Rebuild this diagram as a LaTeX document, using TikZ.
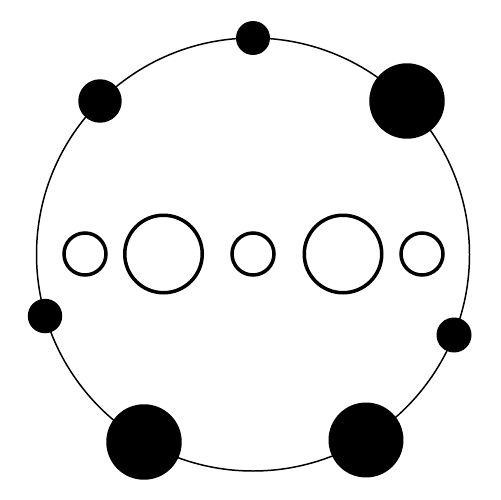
\documentclass[tikz,border=0pt]{standalone}
\usetikzlibrary{positioning}

\tikzset{
  planet/.style={circle, fill=black, inner sep=0pt},
  moon/.style={circle, draw=black, line width=2pt, inner sep=0pt},
}

\begin{document}
\begin{tikzpicture}[x=0.02cm, y=-0.02cm]
  \useasboundingbox (0,0) rectangle (500,500);
  \coordinate (o) at (253,254.5);
  \draw[line width=0.85pt] (o) circle (216.5);
  % planets on the orbit
  \node[planet, minimum size=0.68cm] (top) at (253,38) {};
  \node[planet, minimum size=0.87cm] (nw) at (100,101) {};
  \node[planet, minimum size=1.51cm] (ne) at (407,101) {};
  \node[planet, minimum size=0.69cm] (w) at (45,316) {};
  \node[planet, minimum size=0.70cm] (e) at (454,335) {};
  \node[planet, minimum size=1.51cm] (sw) at (144,442) {};
  \node[planet, minimum size=1.50cm] (se) at (366,440) {};
  % row of rings
  \node[moon, minimum size=0.84cm] (m1) at (85,254) {};
  \node[moon, minimum size=1.55cm] (m2) at (163.5,254) {};
  \node[moon, minimum size=0.84cm] (m3) at (253,254) {};
  \node[moon, minimum size=1.55cm] (m4) at (343,254) {};
  \node[moon, minimum size=0.84cm] (m5) at (422,254) {};
\end{tikzpicture}
\end{document}
